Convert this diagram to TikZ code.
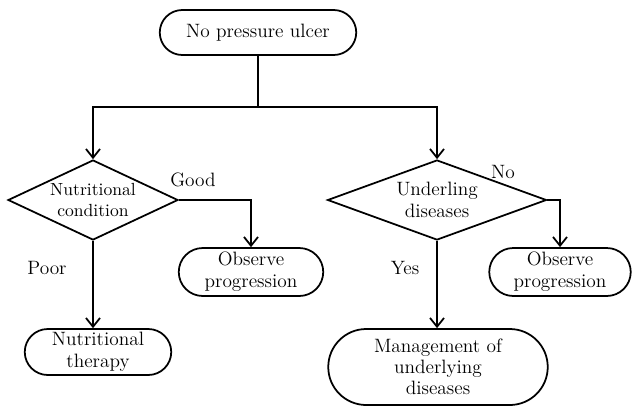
\documentclass[tikz,border=0pt]{standalone}
\usepackage{tikz}
\usetikzlibrary{shapes.misc,shapes.geometric,arrows.meta}

\begin{document}
\begin{tikzpicture}[
    font=\fontsize{11}{12.5}\selectfont, line width=1pt,
    pill/.style={draw, rounded rectangle, align=center, inner sep=1pt},
    decision/.style={draw, diamond, align=center, inner sep=0pt},
    >={Straight Barb[length=5pt,width=8pt]}]

    \useasboundingbox (0,0) rectangle (12.7,-8.16);

    \node[pill, minimum width=4cm, minimum height=0.9cm] (start) at (5.16,-0.65)
      {No pressure ulcer};

    \coordinate (split) at (5.16,-2.14);

    \node[decision, aspect=2.125, minimum width=3.4cm, minimum height=1.6cm,
      font=\fontsize{10}{12}\selectfont] (nutrition) at (1.86,-4.0)
      {Nutritional\\condition};

    \node[decision, aspect=2.74, minimum width=4.38cm, minimum height=1.6cm] (disease) at (8.74,-4.0)
      {Underling\\diseases};

    \node[pill, minimum width=2.96cm, minimum height=0.96cm] (observeL) at (5.02,-5.44)
      {Observe\\progression};

    \node[pill, minimum width=3.0cm, minimum height=0.92cm] (therapy) at (1.96,-7.04)
      {Nutritional\\therapy};

    \node[pill, minimum width=2.9cm, minimum height=0.96cm] (observeR) at (11.2,-5.44)
      {Observe\\progression};

    \node[pill, minimum width=4.46cm, minimum height=1.52cm,
      font=\fontsize{11}{11.8}\selectfont] (manage) at (8.76,-7.34)
      {Management of\\underlying\\diseases};

    \node[] (good) at (3.86,-3.6) {Good};
    \node[] (poor) at (0.94,-5.36) {Poor};
    \node[] (no) at (10.06,-3.44) {No};
    \node[] (yes) at (8.1,-5.36) {Yes};

    \draw (start) -- (split);

    \draw[->]
      (split) -| (nutrition.north);
    \draw[->]
      (split) -| (disease.north);

    \draw[->]
      (nutrition.east) -| (observeL.north);
    \draw[->]
      (nutrition.south) -- (nutrition.south |- therapy.north);

    \draw[->]
      (disease.east) -| (observeR.north);
    \draw[->]
      (disease.south) -- (disease.south |- manage.north);
\end{tikzpicture}
\end{document}
